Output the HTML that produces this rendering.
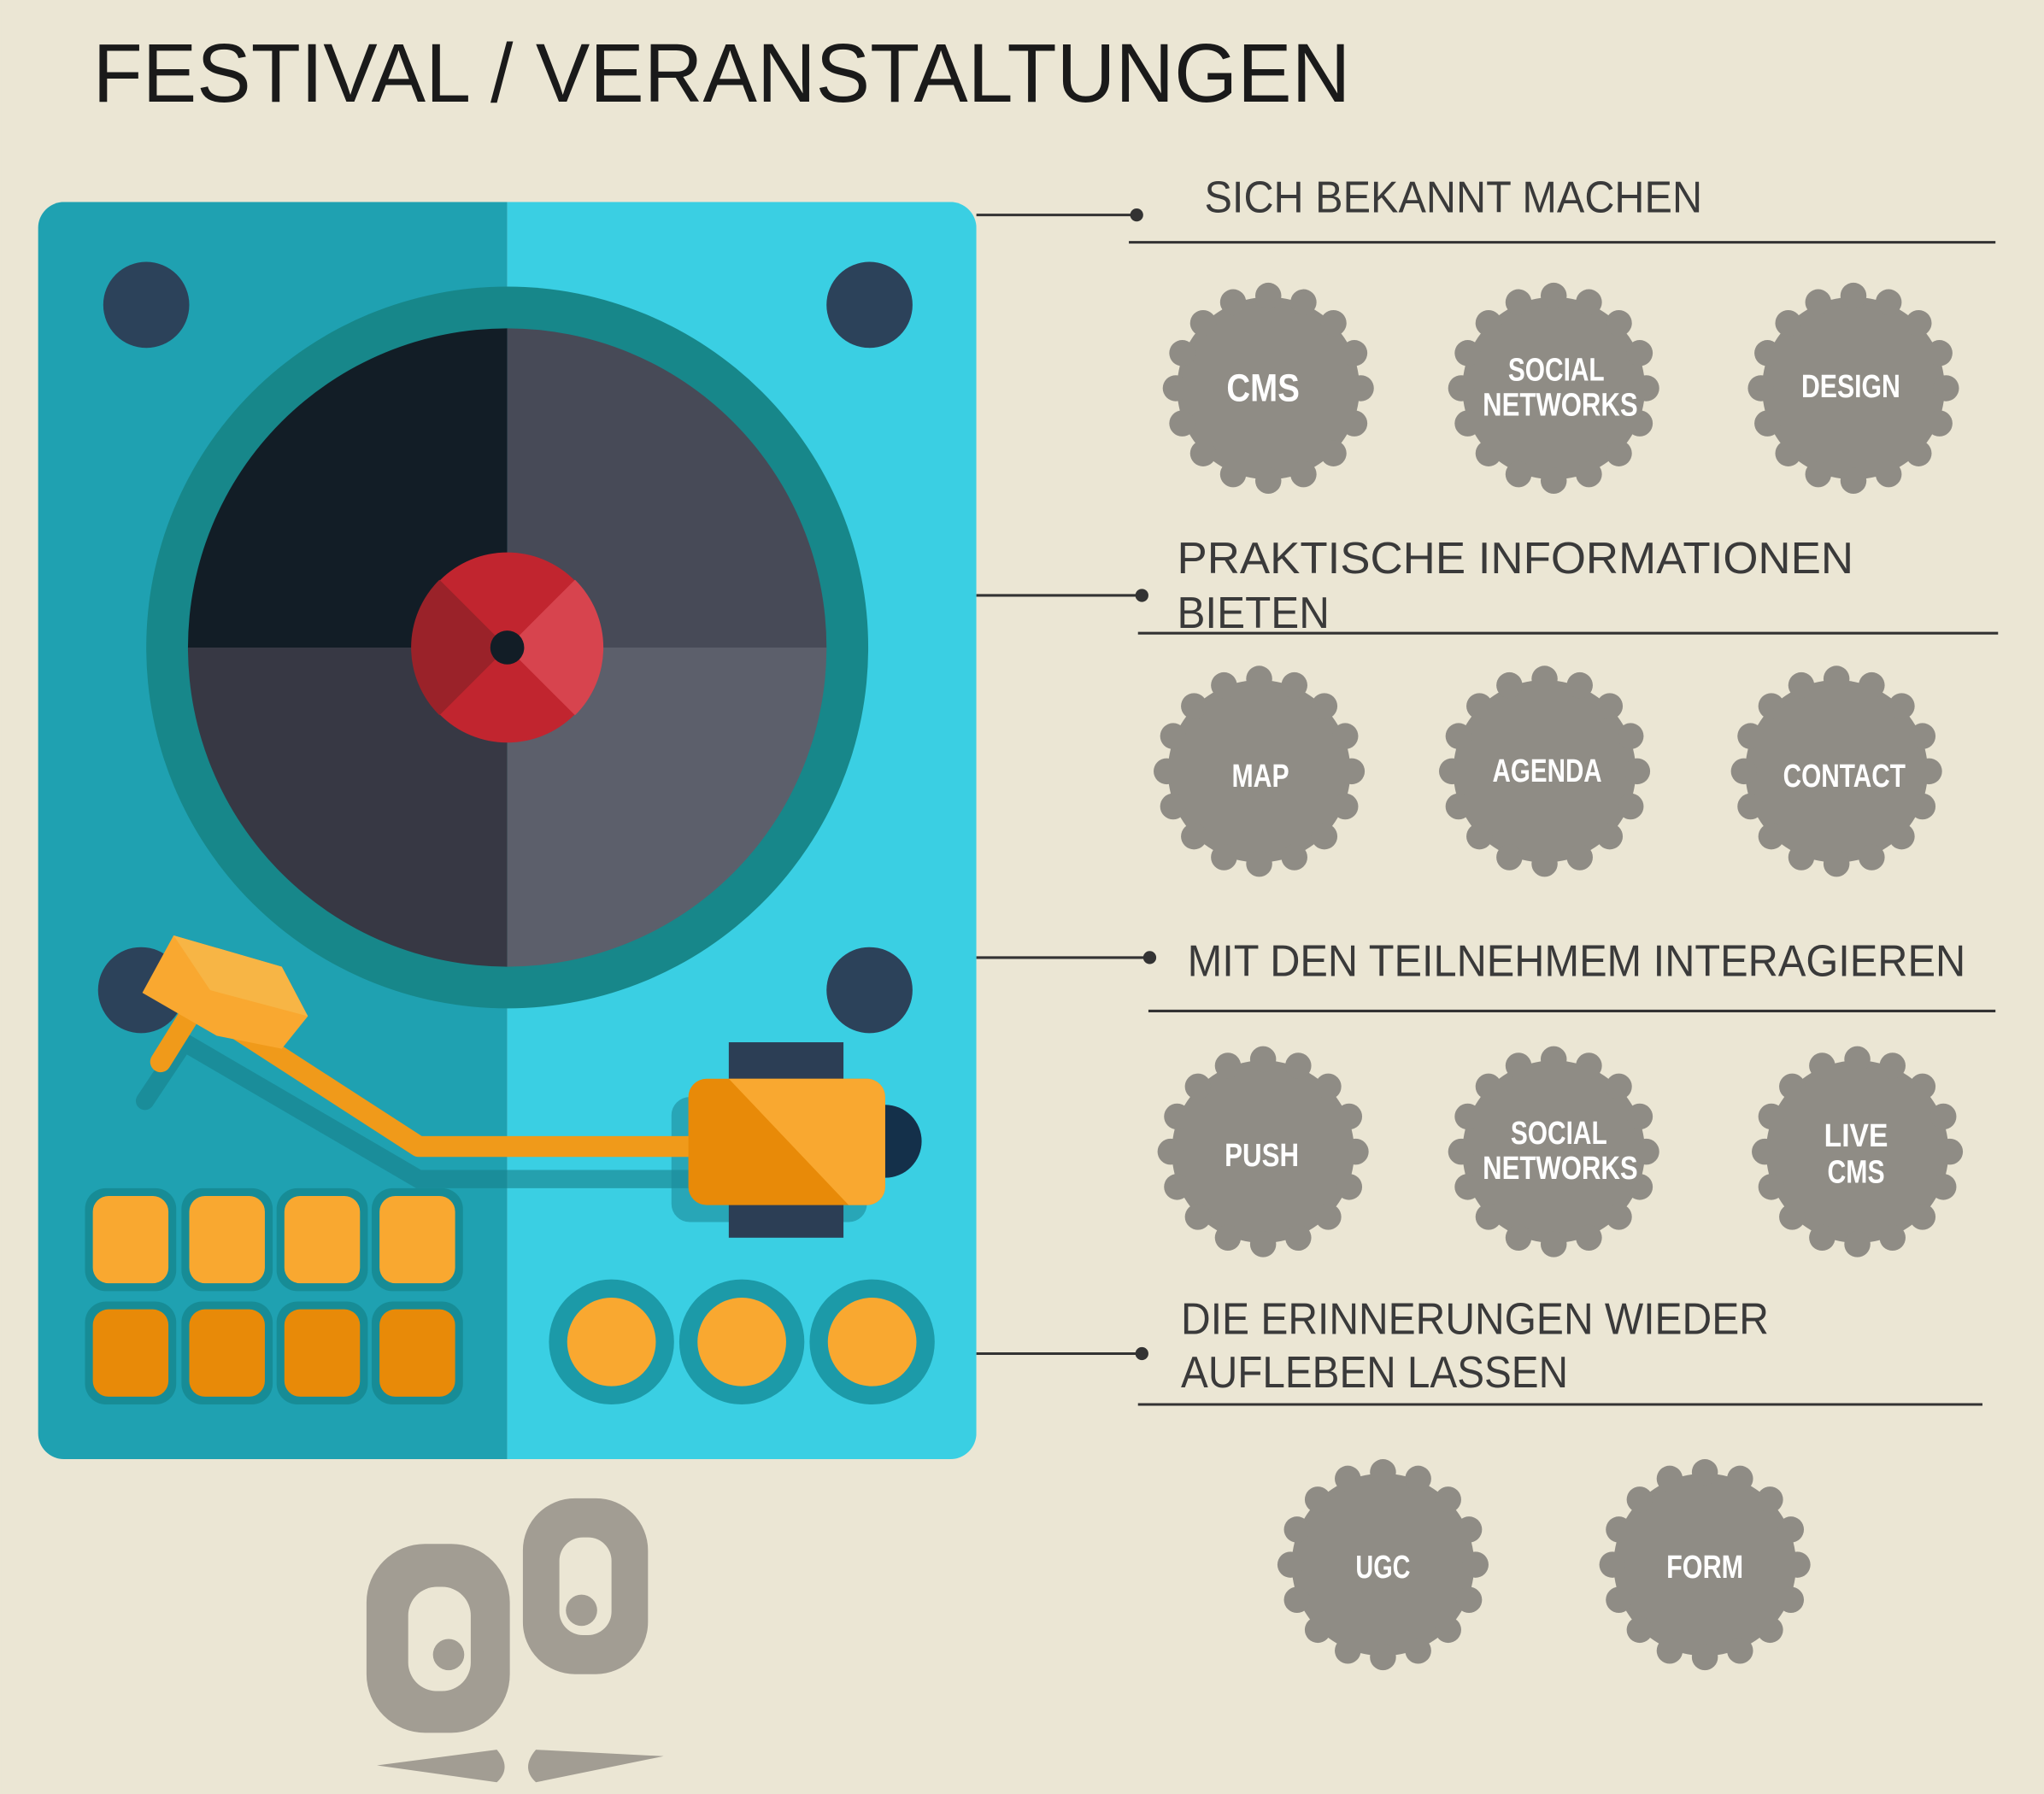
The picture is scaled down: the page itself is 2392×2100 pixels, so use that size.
<!DOCTYPE html>
<html><head><meta charset="utf-8"><style>
html,body{margin:0;padding:0;background:#ebe6d4;}
svg{display:block}
.t{font-family:"Liberation Sans",sans-serif;fill:#1a1a1a}
.h{font-family:"Liberation Sans",sans-serif;fill:#3a3a3a;font-size:34px}
.b{font-family:"Liberation Sans Narrow","Liberation Sans",sans-serif;font-weight:bold;fill:#fff;text-anchor:middle}
</style></head><body>
<svg width="2392" height="2100" viewBox="0 0 1566 1377" xmlns="http://www.w3.org/2000/svg">
<defs>
<g id="bd">
<circle r="70" fill="#8f8c85"/>
<g fill="#8f8c85">
<circle cx="0" cy="-71" r="10"/><circle cx="27" cy="-66" r="10"/><circle cx="50" cy="-50" r="10"/><circle cx="66" cy="-27" r="10"/><circle cx="71" cy="0" r="10"/><circle cx="66" cy="27" r="10"/><circle cx="50" cy="50" r="10"/><circle cx="27" cy="66" r="10"/><circle cx="0" cy="71" r="10"/><circle cx="-27" cy="66" r="10"/><circle cx="-50" cy="50" r="10"/><circle cx="-66" cy="27" r="10"/><circle cx="-71" cy="0" r="10"/><circle cx="-66" cy="-27" r="10"/><circle cx="-50" cy="-50" r="10"/><circle cx="-27" cy="-66" r="10"/>
</g></g>
<clipPath id="tt"><rect x="28" y="155" width="720" height="965" rx="20"/></clipPath>
</defs>
<rect width="1566" height="1377" fill="#ebe6d4"/>
<text x="70" y="78" class="t" font-size="64" textLength="965" lengthAdjust="spacingAndGlyphs">FESTIVAL / VERANSTALTUNGEN</text>

<g clip-path="url(#tt)">
<rect x="28" y="155" width="360" height="965" fill="#1fa1b1"/>
<rect x="388" y="155" width="360" height="965" fill="#3acfe3"/>
</g>
<g fill="#2c425a">
<circle cx="111" cy="234" r="33"/><circle cx="666" cy="234" r="33"/><circle cx="107" cy="760" r="33"/><circle cx="666" cy="760" r="33"/>
</g>
<circle cx="388" cy="497" r="277" fill="#17878a"/>
<path d="M388 497V252A245 245 0 0 0 143 497Z" fill="#121d26"/>
<path d="M388 497V252A245 245 0 0 1 633 497Z" fill="#474a57"/>
<path d="M388 497H143A245 245 0 0 0 388 742Z" fill="#373844"/>
<path d="M388 497H633A245 245 0 0 1 388 742Z" fill="#5c5f6b"/>
<circle cx="388" cy="497" r="73" fill="#c1252f"/>
<path d="M388 497L336 445A73 73 0 0 0 336 549Z" fill="#9a2229"/>
<path d="M388 497L440 445A73 73 0 0 1 440 549Z" fill="#d7444e"/>
<circle cx="388" cy="497" r="13" fill="#121d26"/>

<path d="M110 845L140 800 320 905 540 905" stroke="#17808a" stroke-width="14" fill="none" stroke-linecap="round" opacity="0.6"/>
<rect x="514" y="842" width="150" height="96" rx="14" fill="#1d8b9a" opacity="0.6"/>
<rect x="558" y="800" width="88" height="150" fill="#2c3e55"/>
<circle cx="678" cy="876" r="28" fill="#14304a"/>
<path d="M122 815L150 770 320 880 540 880" stroke="#f09a1a" stroke-width="16" fill="none" stroke-linecap="round" stroke-linejoin="round"/>
<rect x="527" y="828" width="151" height="97" rx="14" fill="#e88a08"/>
<path d="M541 828H664A14 14 0 0 1 678 842V911A14 14 0 0 1 664 925H650L558 828Z" fill="#f9a830"/>
<path d="M108 762L132 718 215 742 235 780 215 805 165 795Z" fill="#f9a830"/>
<path d="M132 718L215 742 235 780 160 760Z" fill="#f7b545"/>

<g fill="#178c96">
<rect x="64" y="912" width="70" height="79" rx="16"/><rect x="138" y="912" width="70" height="79" rx="16"/><rect x="211" y="912" width="70" height="79" rx="16"/><rect x="284" y="912" width="70" height="79" rx="16"/>
<rect x="64" y="999" width="70" height="79" rx="16"/><rect x="138" y="999" width="70" height="79" rx="16"/><rect x="211" y="999" width="70" height="79" rx="16"/><rect x="284" y="999" width="70" height="79" rx="16"/>
</g>
<g fill="#f9a830">
<rect x="70" y="918" width="58" height="67" rx="12"/><rect x="144" y="918" width="58" height="67" rx="12"/><rect x="217" y="918" width="58" height="67" rx="12"/><rect x="290" y="918" width="58" height="67" rx="12"/>
</g>
<g fill="#e88a08">
<rect x="70" y="1005" width="58" height="67" rx="12"/><rect x="144" y="1005" width="58" height="67" rx="12"/><rect x="217" y="1005" width="58" height="67" rx="12"/><rect x="290" y="1005" width="58" height="67" rx="12"/>
</g>
<g fill="#1c9aa8"><circle cx="468" cy="1030" r="48"/><circle cx="568" cy="1030" r="48"/><circle cx="668" cy="1030" r="48"/></g>
<g fill="#f9a830"><circle cx="468" cy="1030" r="34"/><circle cx="568" cy="1030" r="34"/><circle cx="668" cy="1030" r="34"/></g>

<g stroke="#333" stroke-width="2" fill="none">
<path d="M748 165H870M865 186H1530"/>
<path d="M748 457H874M872 486H1532"/>
<path d="M748 735H880M880 776H1530"/>
<path d="M748 1039H874M872 1078H1520"/>
</g>
<g fill="#333"><circle cx="871" cy="165" r="5"/><circle cx="875" cy="457" r="5"/><circle cx="881" cy="735" r="5"/><circle cx="875" cy="1039" r="5"/></g>
<text x="923" y="163" class="h" textLength="382" lengthAdjust="spacingAndGlyphs">SICH BEKANNT MACHEN</text>
<text x="902" y="440" class="h" font-size="37" textLength="519" lengthAdjust="spacingAndGlyphs">PRAKTISCHE INFORMATIONEN</text>
<text x="902" y="482" class="h" font-size="37" textLength="117" lengthAdjust="spacingAndGlyphs">BIETEN</text>
<text x="910" y="749" class="h" font-size="37" textLength="597" lengthAdjust="spacingAndGlyphs">MIT DEN TEILNEHMEM INTERAGIEREN</text>
<text x="905" y="1024" class="h" font-size="37" textLength="451" lengthAdjust="spacingAndGlyphs">DIE ERINNERUNGEN WIEDER</text>
<text x="905" y="1065" class="h" font-size="37" textLength="297" lengthAdjust="spacingAndGlyphs">AUFLEBEN LASSEN</text>

<use href="#bd" x="972" y="298"/><use href="#bd" x="1191" y="298"/><use href="#bd" x="1421" y="298"/>
<use href="#bd" x="965" y="592"/><use href="#bd" x="1184" y="592"/><use href="#bd" x="1408" y="592"/>
<use href="#bd" x="968" y="884"/><use href="#bd" x="1191" y="884"/><use href="#bd" x="1424" y="884"/>
<use href="#bd" x="1060" y="1201"/><use href="#bd" x="1307" y="1201"/>
<text x="968" y="308" class="b" font-size="30" textLength="56" lengthAdjust="spacingAndGlyphs">CMS</text>
<text x="1193" y="292" class="b" font-size="25" textLength="74" lengthAdjust="spacingAndGlyphs">SOCIAL</text>
<text x="1196" y="319" class="b" font-size="25" textLength="119" lengthAdjust="spacingAndGlyphs">NETWORKS</text>
<text x="1419" y="305" class="b" font-size="25" textLength="76" lengthAdjust="spacingAndGlyphs">DESIGN</text>
<text x="966" y="604" class="b" font-size="25" textLength="44" lengthAdjust="spacingAndGlyphs">MAP</text>
<text x="1186" y="600" class="b" font-size="25" textLength="84" lengthAdjust="spacingAndGlyphs">AGENDA</text>
<text x="1414" y="604" class="b" font-size="25" textLength="94" lengthAdjust="spacingAndGlyphs">CONTACT</text>
<text x="967" y="895" class="b" font-size="25" textLength="57" lengthAdjust="spacingAndGlyphs">PUSH</text>
<text x="1195" y="878" class="b" font-size="25" textLength="74" lengthAdjust="spacingAndGlyphs">SOCIAL</text>
<text x="1196" y="905" class="b" font-size="25" textLength="119" lengthAdjust="spacingAndGlyphs">NETWORKS</text>
<text x="1423" y="880" class="b" font-size="25" textLength="49" lengthAdjust="spacingAndGlyphs">LIVE</text>
<text x="1423" y="908" class="b" font-size="25" textLength="44" lengthAdjust="spacingAndGlyphs">CMS</text>
<text x="1060" y="1211" class="b" font-size="25" textLength="42" lengthAdjust="spacingAndGlyphs">UGC</text>
<text x="1307" y="1211" class="b" font-size="25" textLength="59" lengthAdjust="spacingAndGlyphs">FORM</text>

<g fill="#a29d93">
<rect x="280" y="1185" width="110" height="145" rx="45"/>
<rect x="400" y="1150" width="96" height="135" rx="40"/>
<path d="M288 1355L380 1343Q392 1357 380 1368Z"/>
<path d="M508 1348L410 1343Q398 1357 410 1368Z"/>
</g>
<g fill="#ebe6d4">
<rect x="312" y="1218" width="48" height="80" rx="22"/>
<rect x="428" y="1180" width="40" height="75" rx="18"/>
</g>
<g fill="#a29d93"><circle cx="343" cy="1270" r="12"/><circle cx="445" cy="1236" r="12"/></g>
</svg>
</body></html>
